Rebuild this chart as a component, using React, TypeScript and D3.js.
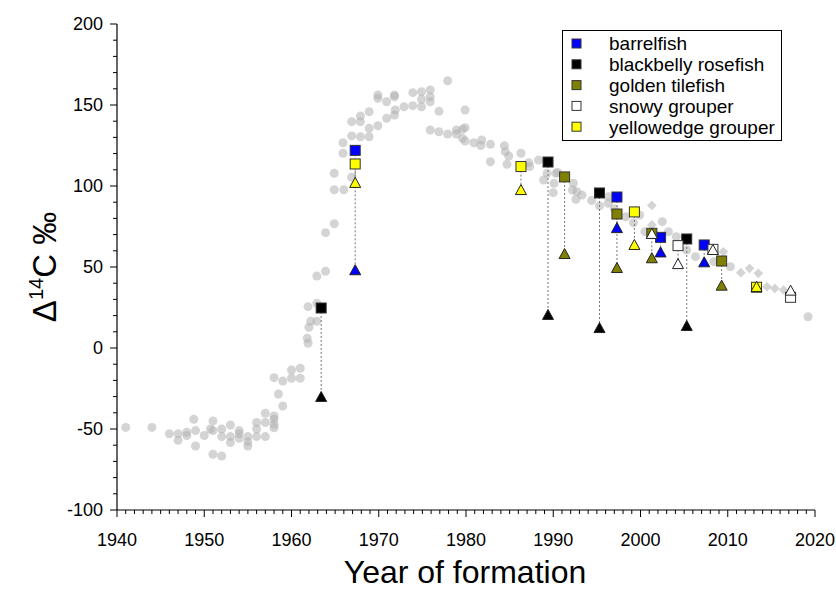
import React, { useEffect, useRef } from "react";
import * as d3 from "d3";

// Background reference record (gray circles), [year, value]
const refCircles = [
  [1941.0, -49], [1944.0, -49], [1946.0, -53], [1947.0, -53], [1947.0, -57],
  [1948.0, -52], [1948.0, -54], [1948.8, -44], [1949.0, -51], [1949.0, -60.5],
  [1950.0, -54], [1950.7, -50], [1951.0, -45], [1951.0, -51], [1951.0, -65.6],
  [1952.0, -66.7], [1952.0, -50], [1952.0, -54.7], [1953.0, -47.5], [1953.0, -54.7],
  [1953.0, -58.4], [1954.0, -51], [1954.0, -53], [1954.0, -55.7], [1955.0, -54.7],
  [1955.0, -57.8], [1955.0, -60.5], [1956.0, -46], [1956.0, -50], [1956.0, -54.7],
  [1957.0, -40.3], [1957.0, -46], [1957.0, -54.7], [1958.0, -42], [1958.0, -44],
  [1958.0, -47], [1958.0, -49.2], [1958.0, -18.3], [1958.5, -28.4], [1959.0, -20.4],
  [1959.0, -35.8], [1960.0, -13.6], [1960.0, -18.7], [1961.0, -12.5], [1961.0, -18.7],
  [1961.8, 6], [1961.9, 2.9], [1962.0, 12.8], [1962.2, 16.5], [1962.9, 16.5],
  [1961.9, 25.5], [1962.9, 27.6], [1962.9, 44.4], [1963.9, 47.3], [1963.9, 71.2],
  [1964.9, 76.7], [1964.9, 97.7], [1966.0, 97.7], [1964.9, 107.8], [1966.9, 105.4],
  [1965.9, 120.2], [1965.9, 126.7], [1966.9, 139.7], [1966.9, 130.9], [1967.9, 143.2],
  [1967.9, 139.7], [1967.9, 130.4], [1968.9, 130.4], [1968.9, 145.9], [1968.9, 135.6],
  [1969.9, 137.2], [1969.9, 156.2], [1969.9, 154.1], [1970.9, 152], [1970.9, 141.8],
  [1971.8, 156.2], [1971.8, 155.1], [1971.9, 146.9], [1971.8, 143.8], [1972.9, 148.9],
  [1973.9, 157.6], [1973.9, 149.6], [1974.9, 158.2], [1974.9, 153.5], [1974.9, 148.9],
  [1975.9, 159.3], [1975.9, 155.1], [1975.9, 152], [1976.9, 146.1], [1977.9, 165],
  [1975.9, 134.6], [1976.9, 133.5], [1977.9, 132.1], [1978.9, 134.6], [1978.9, 132.1],
  [1979.6, 135], [1979.9, 136], [1979.9, 146.9], [1979.6, 129.4], [1979.9, 127.8],
  [1980.9, 126.7], [1981.8, 128.4], [1981.7, 125], [1982.8, 125.7], [1982.8, 115],
  [1984.4, 124.9], [1984.5, 121.2], [1984.9, 118.5], [1984.7, 113.4], [1986.3, 120.2],
  [1987.2, 114.4], [1987.3, 112], [1988.3, 116], [1989.3, 107.8], [1988.9, 103.7],
  [1990.3, 107.8], [1990.5, 108.3], [1990.1, 101.7], [1990.0, 95.9], [1992.3, 101.7],
  [1992.2, 97.5], [1992.7, 96.5], [1992.6, 91.8], [1993.3, 94.4], [1994.4, 91],
  [1995.3, 87.7], [1996.3, 89.3], [1996.3, 93.4], [1997.0, 86], [1998.3, 81],
  [1999.2, 77.3], [1999.9, 82.1], [2000.5, 71.8], [2002.5, 78], [2003.2, 71.8],
  [2004.1, 68.7], [2005.3, 60.5], [2006.3, 56.4], [2008.4, 53.3], [2010.3, 50.2],
  [2019.2, 19.3],
];

// Background reference record (gray diamonds), [year, value]
const refDiamonds = [
  [2001.3, 88], [2001.3, 76], [2009.5, 59.4], [2011.5, 46.5], [2012.5, 49.2],
  [2013.5, 46.1], [2014.5, 37.8], [2015.4, 36.8], [2016.4, 35.8],
];

const species = ["barrelfish", "blackbelly rosefish", "golden tilefish", "snowy grouper", "yellowedge grouper"];
const speciesColors = ["#0000ff", "#000000", "#808000", "#ffffff", "#ffff00"];

// Squares per species, [year, value]
const squares = [
  [[1967.3, 122], [1997.3, 93.2], [2002.3, 68.3], [2007.3, 63.6]],
  [[1963.4, 24.7], [1989.4, 114.8], [1995.3, 95.7], [2005.3, 67.3]],
  [[1991.3, 105.6], [1997.3, 82.7], [2001.3, 70.8], [2009.3, 53.7]],
  [[2004.3, 63.2], [2008.3, 60.9], [2017.2, 31.3]],
  [[1967.3, 113.6], [1986.3, 112], [1999.3, 84], [2013.3, 37.5]],
];

// Triangles per species, [year, value]
const triangles = [
  [[1967.3, 48], [1997.3, 74], [2002.3, 59], [2007.3, 52.9]],
  [[1963.4, -30.2], [1989.4, 20.4], [1995.3, 12.3], [2005.3, 13.6]],
  [[1991.3, 58], [1997.3, 49.4], [2001.3, 55.4], [2009.3, 38.5]],
  [[2001.3, 70.4], [2004.3, 51.8], [2008.3, 60.5], [2017.2, 35.4]],
  [[1967.3, 101.9], [1986.3, 97.5], [1999.3, 63.6], [2013.3, 37.7]],
];

const yTicks = [-100, -50, 0, 50, 100, 150, 200];
const xTicks = [1940, 1950, 1960, 1970, 1980, 1990, 2000, 2010, 2020];

const FONT = "'Liberation Sans', Arial, sans-serif";

export default function App() {
  const ref = useRef<SVGSVGElement>(null);

  useEffect(() => {
    const svg = d3.select(ref.current);
    svg.selectAll("*").remove();

    const x = d3.scaleLinear().domain([1940, 2020]).range([117, 815]);
    const y = d3.scaleLinear().domain([-100, 200]).range([510, 24]);

    // Y axis with minor ticks every 10
    const yAxis = svg.append("g");
    yAxis.append("line").attr("x1", 117).attr("x2", 117).attr("y1", y(200)).attr("y2", y(-100))
      .attr("stroke", "#000").attr("stroke-width", 1.2);
    yAxis.selectAll(".minor").data(d3.range(-100, 201, 10)).enter().append("line")
      .attr("x1", (d) => (d % 50 === 0 ? 110 : 113)).attr("x2", 117)
      .attr("y1", (d) => y(d)).attr("y2", (d) => y(d))
      .attr("stroke", "#000").attr("stroke-width", 1);
    yAxis.selectAll("text").data(yTicks).enter().append("text")
      .attr("x", 103).attr("y", (d) => y(d)).attr("dy", "0.36em")
      .attr("text-anchor", "end").attr("font-family", FONT).attr("font-size", 18)
      .text((d) => d);

    // X axis with minor ticks every year
    const xAxis = svg.append("g");
    xAxis.append("line").attr("x1", x(1940)).attr("x2", x(2020)).attr("y1", 510).attr("y2", 510)
      .attr("stroke", "#000").attr("stroke-width", 1.2);
    xAxis.selectAll(".minor").data(d3.range(1940, 2021, 1)).enter().append("line")
      .attr("x1", (d) => x(d)).attr("x2", (d) => x(d))
      .attr("y1", 510).attr("y2", (d) => (d % 10 === 0 ? 517 : 514))
      .attr("stroke", "#000").attr("stroke-width", 1);
    xAxis.selectAll("text").data(xTicks).enter().append("text")
      .attr("x", (d) => x(d)).attr("y", 546)
      .attr("text-anchor", "middle").attr("font-family", FONT).attr("font-size", 18)
      .text((d) => d);

    // Axis titles
    svg.append("text").attr("x", 465).attr("y", 583).attr("text-anchor", "middle")
      .attr("font-family", FONT).attr("font-size", 32).text("Year of formation");

    const yTitle = svg.append("text")
      .attr("transform", "translate(56,267) rotate(-90)")
      .attr("text-anchor", "middle").attr("font-family", FONT).attr("font-size", 33);
    yTitle.append("tspan").text("Δ");
    yTitle.append("tspan").attr("font-size", 20).attr("dy", -13).text("14");
    yTitle.append("tspan").attr("dy", 13).text("C ‰");

    // Reference record
    const bg = svg.append("g").attr("fill", "#b0b0b0").attr("fill-opacity", 0.55);
    bg.selectAll("circle").data(refCircles).enter().append("circle")
      .attr("cx", (d) => x(d[0])).attr("cy", (d) => y(d[1])).attr("r", 4.5);
    const diamond = d3.symbol().type(d3.symbolDiamond2).size(60);
    bg.selectAll("path").data(refDiamonds).enter().append("path")
      .attr("d", diamond)
      .attr("transform", (d) => "translate(" + x(d[0]) + "," + y(d[1]) + ")");

    // Dotted connectors between square and triangle of the same fish
    const links = svg.append("g").attr("stroke", "#777").attr("stroke-width", 1)
      .attr("stroke-dasharray", "2,2");
    species.forEach((s, i) => {
      squares[i].forEach((sq) => {
        const tri = triangles[i].find((t) => t[0] === sq[0]);
        if (!tri) return;
        links.append("line")
          .attr("x1", x(sq[0])).attr("x2", x(tri[0]))
          .attr("y1", y(sq[1])).attr("y2", y(tri[1]));
      });
    });

    // Squares
    species.forEach((s, i) => {
      svg.append("g").selectAll("rect").data(squares[i]).enter().append("rect")
        .attr("x", (d) => x(d[0]) - 5).attr("y", (d) => y(d[1]) - 5)
        .attr("width", 10).attr("height", 10)
        .attr("fill", speciesColors[i]).attr("stroke", "#333").attr("stroke-width", 1);
    });

    // Triangles
    const triPath = "M0,-5.5L5.5,4.5L-5.5,4.5Z";
    species.forEach((s, i) => {
      svg.append("g").selectAll("path").data(triangles[i]).enter().append("path")
        .attr("d", triPath)
        .attr("transform", (d) => "translate(" + x(d[0]) + "," + y(d[1]) + ")")
        .attr("fill", speciesColors[i]).attr("stroke", "#222").attr("stroke-width", 1);
    });

    // Legend
    const legend = svg.append("g");
    legend.append("rect").attr("x", 562.5).attr("y", 30.5).attr("width", 219).attr("height", 110)
      .attr("fill", "#fff").attr("stroke", "#000").attr("stroke-width", 1);
    const item = legend.selectAll(".item").data(species).enter().append("g")
      .attr("transform", (d, i) => "translate(0," + (43.5 + i * 20.8) + ")");
    item.append("rect").attr("x", 572).attr("y", -4.5).attr("width", 9).attr("height", 9)
      .attr("fill", (d, i) => speciesColors[i]).attr("stroke", "#333").attr("stroke-width", 1);
    item.append("text").attr("x", 609).attr("dy", "0.36em")
      .attr("font-family", FONT).attr("font-size", 19).text((d) => d);
  }, []);

  return (
    <svg ref={ref} width={836} height={591}
      style={{ position: "absolute", left: 0, top: 0, background: "#fff" }} />
  );
}
